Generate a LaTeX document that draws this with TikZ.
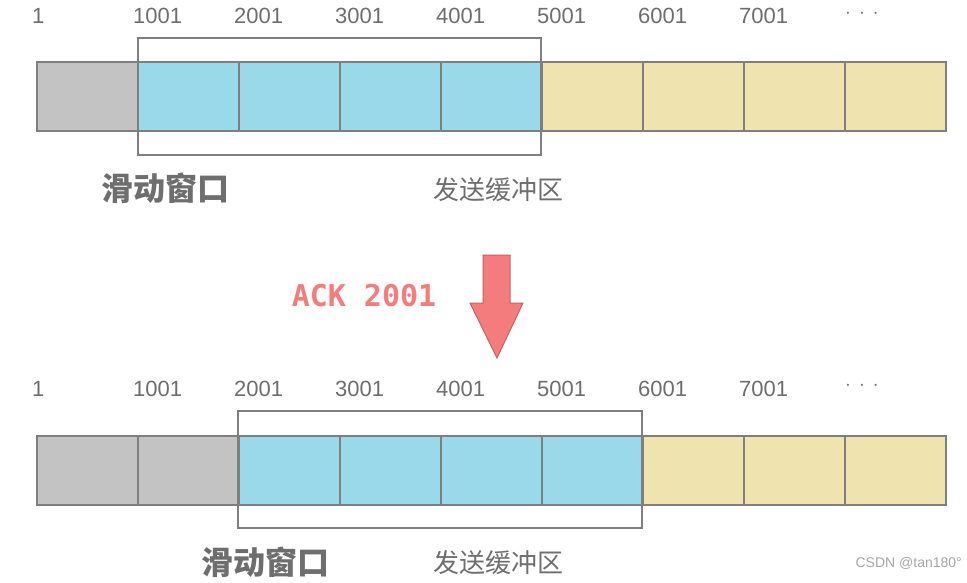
\documentclass[tikz,border=0pt]{standalone}
\usepackage{fontspec}
\setmainfont{Liberation Sans}
\newfontfamily\cjk{Noto Sans CJK SC}
\setmonofont{DejaVu Sans Mono}
\definecolor{cgray}{HTML}{C3C3C3}
\definecolor{cblue}{HTML}{99D9EA}
\definecolor{cyel}{HTML}{EFE4B0}
\definecolor{cline}{HTML}{7F7F7F}
\definecolor{ctext}{HTML}{6E6E6E}
\definecolor{cred}{HTML}{F47C7C}
\begin{document}
\begin{tikzpicture}[x=1pt,y=-1pt,
  cell/.style={draw=cline,line width=2pt,minimum width=101pt,minimum height=69pt,anchor=north west,inner sep=0},
  num/.style={text=ctext,font=\fontsize{22}{22}\selectfont,anchor=west,inner sep=0},
  win/.style={draw=cline,line width=2pt},
  big/.style={text=ctext,font=\cjk\fontsize{32}{32}\selectfont\bfseries,inner sep=0},
  small/.style={text=ctext,font=\cjk\fontsize{26}{26}\selectfont,inner sep=0}]
\useasboundingbox (0,0) rectangle (967,582);
\foreach \i/\c in {0/cgray,1/cblue,2/cblue,3/cblue,4/cblue,5/cyel,6/cyel,7/cyel,8/cyel}{
  \node[cell,fill=\c] (t\i) at (36+101*\i,61) {};
}
\foreach \i/\c in {0/cgray,1/cgray,2/cblue,3/cblue,4/cblue,5/cblue,6/cyel,7/cyel,8/cyel}{
  \node[cell,fill=\c] (b\i) at (36+101*\i,435) {};
}
\foreach \i/\t in {0/1,1/1001,2/2001,3/3001,4/4001,5/5001,6/6001,7/7001}{
  \node[num] (tn\i) at (32+101*\i,16) {\t};
  \node[num] (bn\i) at (32+101*\i,389) {\t};
}
\node[num] (tn8) at (845,14) {$\cdot\,\cdot\,\cdot$};
\node[num] (bn8) at (845,386) {$\cdot\,\cdot\,\cdot$};
\draw[win] (138,38) rectangle (541,155);
\draw[win] (238,411) rectangle (642,528);
\node[big] (w1) at (165,188) {滑动窗口};
\node[small] (s1) at (498,190) {发送缓冲区};
\node[big] (w2) at (265,562) {滑动窗口};
\node[small] (s2) at (498,563) {发送缓冲区};
\draw[fill=cred,draw=cred!80!black,line width=1pt] (483,255) -- (510,255) -- (510,303) -- (523,303) -- (497,358) -- (470,303) -- (483,303) -- cycle;
\node[text=cred,font=\ttfamily\bfseries\fontsize{30}{30}\selectfont,inner sep=0] (ack) at (364,296) {ACK 2001};
\node[text=gray!70,font=\fontsize{14}{14}\selectfont,anchor=east,inner sep=0] (wm) at (962,563) {CSDN @tan180°};
\end{tikzpicture}
\end{document}
